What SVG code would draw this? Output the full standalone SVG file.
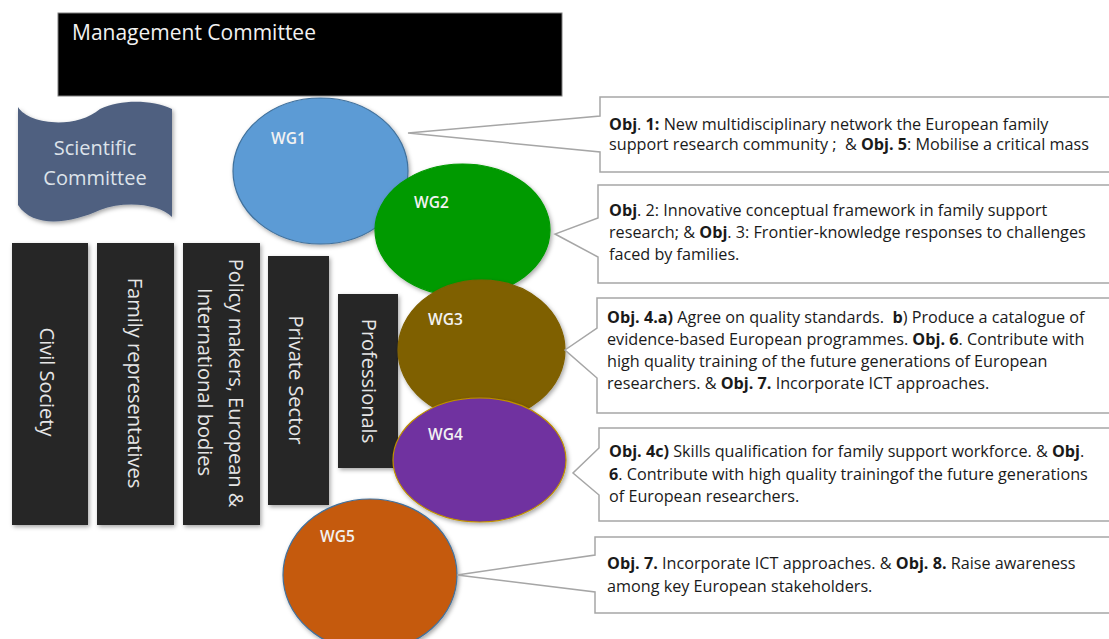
<svg xmlns="http://www.w3.org/2000/svg" width="1109" height="639" viewBox="0 0 1109 639">
  <defs>
    <filter id="shadow" x="-10%" y="-10%" width="125%" height="125%">
      <feDropShadow dx="1.5" dy="2" stdDeviation="2" flood-color="#000" flood-opacity="0.35"/>
    </filter>
    <style>
      .label { font-family: "Open Sans", "Liberation Sans", sans-serif; }
      .bar { fill: #272727; filter: url(#shadow); }
      .bar-text { font-family: "Open Sans", "Liberation Sans", sans-serif; font-size: 20px; fill: #e6e6e6; text-anchor: middle; }
      .wg { stroke-width: 1.2; filter: url(#shadow); }
      .wg-text { font-family: "Open Sans", "Liberation Sans", sans-serif; font-size: 15.5px; font-weight: 600; fill: #f2f2f2; }
      .callout { fill: #ffffff; stroke: #a6a6a6; stroke-width: 1.5; }
      .obj { font-family: "Open Sans", "Liberation Sans", sans-serif; font-size: 16.2px; fill: #1a1a1a; white-space: pre; }
      .b { font-weight: 700; }
    </style>
  </defs>

  <rect width="1109" height="639" fill="#ffffff"/>

  <!-- Management Committee -->
  <g id="management-committee">
    <rect x="58" y="13" width="504" height="83" fill="#000000" stroke="#7f7f7f" stroke-width="1"/>
    <text class="label" x="72" y="40" font-size="21" fill="#f2f2f2">Management Committee</text>
  </g>

  <!-- Scientific Committee (punched-tape banner) -->
  <g id="scientific-committee">
    <path d="M18,107 C28,124 75,130 100,109 C122,99 152,100 172,109 L172,217 C160,204 125,200 100,210 C74,222 34,230 18,205 Z" fill="#4f6180" filter="url(#shadow)"/>
    <text class="label" x="95" y="155" font-size="20" fill="#dde3ea" text-anchor="middle">Scientific</text>
    <text class="label" x="95" y="185" font-size="20" fill="#dde3ea" text-anchor="middle">Committee</text>
  </g>

  <!-- Stakeholder columns -->
  <g id="civil-society">
    <rect class="bar" x="12" y="243" width="76" height="282"/>
    <text class="bar-text" transform="translate(47,382) rotate(90)" y="7">Civil Society</text>
  </g>
  <g id="family-representatives">
    <rect class="bar" x="97" y="243" width="77" height="282"/>
    <text class="bar-text" transform="translate(135,383) rotate(90)" y="7">Family representatives</text>
  </g>
  <g id="policy-makers">
    <rect class="bar" x="183" y="243" width="77" height="282"/>
    <text class="bar-text" transform="translate(236,383) rotate(90)" y="7">Policy makers, European &amp;</text>
    <text class="bar-text" transform="translate(205,382) rotate(90)" y="7">International bodies</text>
  </g>
  <g id="private-sector">
    <rect class="bar" x="268" y="256" width="61" height="249"/>
    <text class="bar-text" transform="translate(296,380) rotate(90)" y="7">Private Sector</text>
  </g>
  <g id="professionals">
    <rect class="bar" x="338" y="294" width="60" height="174"/>
    <text class="bar-text" transform="translate(369,381) rotate(90)" y="7">Professionals</text>
  </g>

  <!-- Working groups -->
  <g id="wg1">
    <ellipse class="wg" cx="320.5" cy="171" rx="87.5" ry="73" fill="#5b9bd5" stroke="#41719c"/>
    <text class="wg-text" x="271" y="144">WG1</text>
  </g>
  <g id="wg2">
    <ellipse class="wg" cx="462.5" cy="230" rx="87.5" ry="66" fill="#009a00" stroke="#009a00"/>
    <text class="wg-text" x="414" y="208">WG2</text>
  </g>
  <g id="wg3">
    <ellipse class="wg" cx="481.5" cy="350" rx="83.5" ry="70" fill="#7f6000" stroke="#7f6000"/>
    <text class="wg-text" x="428" y="325">WG3</text>
  </g>
  <g id="wg4">
    <ellipse class="wg" cx="479.5" cy="460" rx="86.5" ry="62" fill="#7030a0" stroke="#bf9000"/>
    <text class="wg-text" x="428" y="440">WG4</text>
  </g>
  <g id="wg5">
    <ellipse class="wg" cx="370" cy="575" rx="87" ry="76" fill="#c55a11" stroke="#41719c"/>
    <text class="wg-text" x="320" y="542">WG5</text>
  </g>

  <!-- Objective callouts, each pointing at its working group -->
  <g id="callouts">
    <g id="obj-wg1">
      <path class="callout" d="M600,97 H1112 V172 H600 V152 L408,133 L600,116 Z"/>
      <text class="obj" x="609" y="130"><tspan class="b">Obj</tspan>. <tspan class="b">1:</tspan> New multidisciplinary network the European family</text>
      <text class="obj" x="609" y="150">support research community ;  &amp; <tspan class="b">Obj. 5</tspan>: Mobilise a critical mass</text>
    </g>
    <g id="obj-wg2">
      <path class="callout" d="M598,185 H1112 V283 H598 V257 L555,234 L598,218 Z"/>
      <text class="obj" x="609" y="216"><tspan class="b">Obj</tspan>. 2: Innovative conceptual framework in family support</text>
      <text class="obj" x="609" y="238">research; &amp; <tspan class="b">Obj</tspan>. 3: Frontier-knowledge responses to challenges</text>
      <text class="obj" x="609" y="260">faced by families.</text>
    </g>
    <g id="obj-wg3">
      <path class="callout" d="M597,298 H1112 V413 H597 V378 L565,350 L597,328 Z"/>
      <text class="obj" x="607" y="323"><tspan class="b">Obj. 4.a)</tspan> Agree on quality standards.  <tspan class="b">b</tspan>) Produce a catalogue of</text>
      <text class="obj" x="607" y="345">evidence-based European programmes. <tspan class="b">Obj. 6</tspan>. Contribute with</text>
      <text class="obj" x="607" y="367">high quality training of the future generations of European</text>
      <text class="obj" x="607" y="389">researchers. &amp; <tspan class="b">Obj. 7.</tspan> Incorporate ICT approaches.</text>
    </g>
    <g id="obj-wg4">
      <path class="callout" d="M599,428 H1112 V521 H599 V495 L573,473 L599,448 Z"/>
      <text class="obj" x="609" y="457"><tspan class="b">Obj. 4c)</tspan> Skills qualification for family support workforce. &amp; <tspan class="b">Obj</tspan>.</text>
      <text class="obj" x="609" y="480"><tspan class="b">6</tspan>. Contribute with high quality trainingof the future generations</text>
      <text class="obj" x="609" y="502">of European researchers.</text>
    </g>
    <g id="obj-wg5">
      <path class="callout" d="M595,537 H1112 V613 H595 V592 L457,575 L595,555 Z"/>
      <text class="obj" x="607" y="569"><tspan class="b">Obj. 7.</tspan> Incorporate ICT approaches. &amp; <tspan class="b">Obj. 8.</tspan> Raise awareness</text>
      <text class="obj" x="607" y="592">among key European stakeholders.</text>
    </g>
  </g>
</svg>
